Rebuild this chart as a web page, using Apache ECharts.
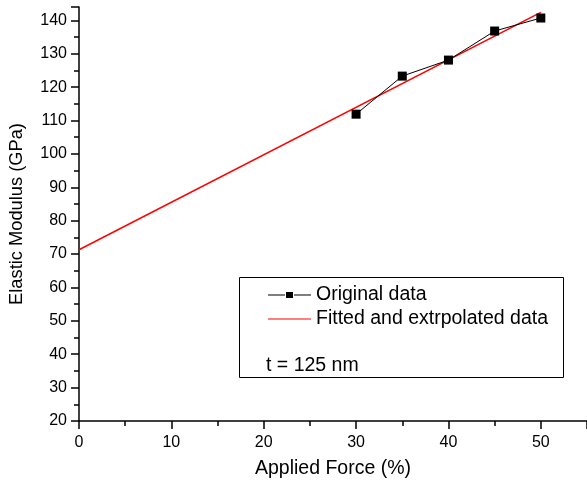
<!DOCTYPE html>
<html>
<head>
<meta charset="utf-8">
<title>Elastic Modulus vs Applied Force</title>
<script src="https://cdn.jsdelivr.net/npm/echarts@6/dist/echarts.min.js"></script>
<style>
  html, body { margin: 0; padding: 0; background: #fff; }
  #chart { width: 587px; height: 486px; }
</style>
</head>
<body>
<div id="chart"></div>
<script>
var forcePct = [30, 35, 40, 45, 50];
var modulusGPa = [111.9, 123.3, 128.1, 136.8, 140.7];
// linear fit, extrapolated back to 0 %
var fitX = [0, 50];
var fitY = [71.3, 142.4];

var FONT = '"Liberation Sans", Arial, sans-serif';

var chart = echarts.init(document.getElementById('chart'));

var origData = forcePct.map(function (x, i) { return [x, modulusGPa[i]]; });
var fitData = fitX.map(function (x, i) { return [x, fitY[i]]; });

// legend icons: thin line with small square / thin line only
var ICON_ORIG = 'path://M0,6.5L17,6.5L17,7.5L0,7.5Z M18,4L25,4L25,10L18,10Z M26,6.5L43,6.5L43,7.5L26,7.5Z';
var ICON_FIT = 'path://M0,0L43,0L43,1L0,1Z';

var axisCommon = {
  axisLine: { lineStyle: { color: '#000', width: 1.5 } },
  axisTick: { inside: false, length: 8, lineStyle: { color: '#000', width: 1.5 } },
  minorTick: { show: true, splitNumber: 2, length: 5, lineStyle: { color: '#000', width: 1.5 } },
  splitLine: { show: false },
  axisLabel: { color: '#000', fontSize: 16, fontFamily: FONT, showMaxLabel: false },
  nameTextStyle: { color: '#000', fontSize: 19.5, fontFamily: FONT }
};

chart.setOption({
  animation: false,
  backgroundColor: '#fff',
  grid: { left: 79, top: 7, width: 512, height: 414, containLabel: false },
  xAxis: Object.assign({}, axisCommon, {
    type: 'value', min: 0, max: 55, interval: 10,
    name: 'Applied Force (%)', nameLocation: 'middle', nameGap: 38,
    axisLabel: Object.assign({}, axisCommon.axisLabel, { margin: 14 })
  }),
  yAxis: Object.assign({}, axisCommon, {
    type: 'value', min: 20, max: 144, interval: 10,
    name: 'Elastic Modulus (GPa)', nameLocation: 'middle', nameGap: 53,
    nameTextStyle: { color: '#000', fontSize: 18.3, fontFamily: FONT },
    axisLabel: Object.assign({}, axisCommon.axisLabel, { margin: 12 })
  }),
  legend: {
    orient: 'vertical',
    left: 268, top: 285,
    padding: 0,
    itemWidth: 43, itemHeight: 14, itemGap: 4,
    textStyle: { color: '#000', fontSize: 19.5, lineHeight: 20, fontFamily: FONT },
    data: [
      { name: 'Original data', icon: ICON_ORIG },
      { name: 'Fitted and extrpolated data', icon: ICON_FIT }
    ]
  },
  graphic: [
    {
      type: 'rect', left: 239, top: 277, z: 0,
      shape: { width: 324, height: 100 },
      style: { fill: '#fff', stroke: '#000', lineWidth: 1 }
    },
    {
      type: 'text', left: 266, top: 356, z: 10,
      style: { text: 't = 125 nm', fill: '#000', font: '19.5px ' + FONT }
    }
  ],
  series: [
    {
      name: 'Fitted and extrpolated data',
      type: 'line',
      data: fitData,
      symbol: 'none',
      lineStyle: { color: '#ff0000', width: 1.5 },
      itemStyle: { color: '#ff0000' },
      z: 2
    },
    {
      name: 'Original data',
      type: 'line',
      data: origData,
      symbol: 'rect',
      symbolSize: 9,
      lineStyle: { color: '#000', width: 1 },
      itemStyle: { color: '#000' },
      z: 3
    }
  ]
});
</script>
</body>
</html>
